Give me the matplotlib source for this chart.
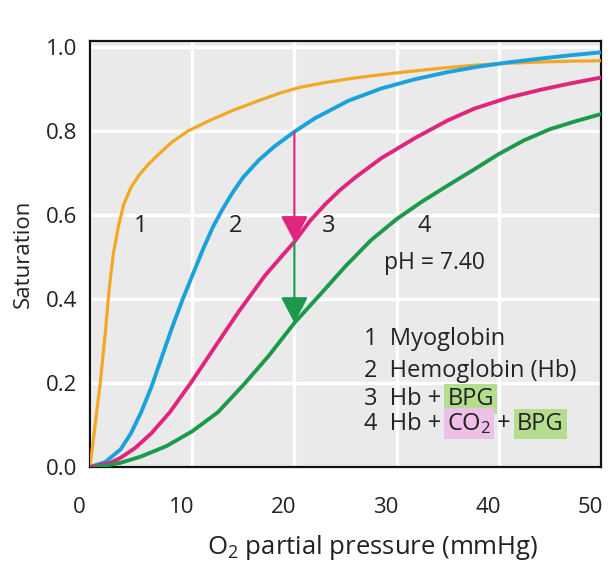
import matplotlib
matplotlib.use('Agg')
import matplotlib.pyplot as plt
from matplotlib.patches import ArrowStyle
from matplotlib.transforms import ScaledTranslation

plt.rcParams['font.family'] = ['Open Sans', 'DejaVu Sans']
plt.rcParams['mathtext.default'] = 'regular'

# ---- data ----
myo_x = [0, 0.5, 1.0, 1.5, 1.9, 2.3, 2.8, 3.3, 4.0, 4.8, 5.7, 6.6, 8.0, 9.6, 11.9, 14.1, 16.5, 18.7,
         20.6, 23.0, 25.3, 28.5, 31.8, 35.1, 38.0, 40.9, 44.1, 47.0, 50]
myo_y = [0, 0.10, 0.20, 0.32, 0.43, 0.51, 0.575, 0.625, 0.665, 0.695, 0.72, 0.742, 0.773, 0.80, 0.827,
         0.85, 0.872, 0.891, 0.904, 0.915, 0.924, 0.934, 0.943, 0.951, 0.957, 0.961, 0.964, 0.966, 0.967]

hb_x = [0, 1.5, 3, 4, 5, 6, 7, 8, 9, 10, 11, 12, 13, 14, 15, 16.5, 18, 20, 22, 25.3, 28.5, 31.8,
        35, 38, 40.9, 44, 47, 50]
hb_y = [0, 0.012, 0.042, 0.08, 0.13, 0.19, 0.26, 0.33, 0.395, 0.455, 0.515, 0.57, 0.615, 0.655, 0.69,
        0.73, 0.762, 0.798, 0.83, 0.872, 0.901, 0.923, 0.94, 0.953, 0.963, 0.972, 0.98, 0.987]

bpg_x = [0, 2, 3, 4.4, 6, 7.8, 10, 12.2, 14.5, 17.1, 18.7, 20, 21.5, 23, 24.5, 26, 28.5, 31.8, 35,
         37.6, 40.9, 44.1, 47, 50]
bpg_y = [0, 0.01, 0.022, 0.045, 0.08, 0.13, 0.205, 0.285, 0.368, 0.455, 0.50, 0.536, 0.585, 0.625,
         0.66, 0.69, 0.735, 0.783, 0.825, 0.853, 0.879, 0.898, 0.913, 0.927]

co2_x = [0.5, 1.5, 3, 5, 7.5, 10, 12.5, 15, 17.5, 20, 22.5, 25, 27.5, 30, 32.5, 35, 37.5, 40, 42.5,
         45, 47.5, 50]
co2_y = [0, 0.003, 0.01, 0.025, 0.05, 0.085, 0.13, 0.195, 0.265, 0.343, 0.41, 0.478, 0.54, 0.59,
         0.632, 0.67, 0.707, 0.745, 0.778, 0.804, 0.823, 0.84]

arrow_x = 20
arrow1_y = [0.798, 0.536]   # Hb -> Hb + BPG
arrow2_y = [0.536, 0.343]   # Hb + BPG -> Hb + CO2 + BPG

curve_labels = ['1', '2', '3', '4']
curve_label_x = [5.0, 14.2, 23.4, 32.7]
curve_label_y = 0.574

x_ticks = [0, 10, 20, 30, 40, 50]
y_ticks = [0.0, 0.2, 0.4, 0.6, 0.8, 1.0]

# colours
c_myo = '#f3a824'
c_hb = '#1ba2dc'
c_bpg = '#e0257f'
c_co2 = '#1c9a4a'
hl_green = '#b4de8e'
hl_pink = '#eec0e8'
ink = '#222222'

fig = plt.figure(figsize=(6.16, 5.77), dpi=100)
ax = fig.add_axes([90 / 616, 110 / 577, 511 / 616, 426 / 577])
ax.set_facecolor('#eaeaea')

ax.plot(myo_x, myo_y, color=c_myo, lw=2.3, solid_capstyle='round', solid_joinstyle='round', zorder=3)
ax.plot(hb_x, hb_y, color=c_hb, lw=2.8, solid_capstyle='round', solid_joinstyle='round', zorder=3)
ax.plot(bpg_x, bpg_y, color=c_bpg, lw=2.8, solid_capstyle='round', solid_joinstyle='round', zorder=3)
ax.plot(co2_x, co2_y, color=c_co2, lw=2.8, solid_capstyle='round', solid_joinstyle='round', zorder=3)

# shift arrows
head = ArrowStyle('-|>', head_length=0.8, head_width=0.42)
ax.annotate('', xy=(arrow_x, arrow1_y[1]), xytext=(arrow_x, arrow1_y[0]),
            arrowprops=dict(arrowstyle=head, color=c_bpg, lw=1.6, mutation_scale=20,
                            shrinkA=0, shrinkB=0), zorder=4)
ax.annotate('', xy=(arrow_x, arrow2_y[1]), xytext=(arrow_x, arrow2_y[0]),
            arrowprops=dict(arrowstyle=head, color=c_co2, lw=1.6, mutation_scale=20,
                            shrinkA=0, shrinkB=0), zorder=4)

for lab, lx in zip(curve_labels, curve_label_x):
    ax.text(lx, curve_label_y, lab, fontsize=17, ha='center', va='center', color=ink)

ax.text(28.8, 0.486, 'pH = 7.40', fontsize=16.5, ha='left', va='center', color=ink)

# key, with highlighted BPG / CO2
key_x = 26.8
key_rows = [
    (0.29, [('1  Myoglobin', None)]),
    (0.214, [('2  Hemoglobin (Hb)', None)]),
    (0.148, [('3  Hb + ', None), ('BPG', hl_green)]),
    (0.088, [('4  Hb + ', None), ('CO$_2$', hl_pink), (' + ', None), ('BPG', hl_green)]),
]
for ky, pieces in key_rows:
    prev = None
    for txt, bg in pieces:
        box = dict(boxstyle='square,pad=0.12', fc=bg, ec='none') if bg else None
        if prev is None:
            prev = ax.text(key_x, ky, txt, fontsize=17, ha='left', va='baseline',
                           color=ink, bbox=box, zorder=5)
        else:
            prev = ax.annotate(txt, xy=(1, 0), xycoords=prev, ha='left', va='bottom',
                               fontsize=17, color=ink, bbox=box, zorder=5)

ax.set_xlim(0, 50)
ax.set_ylim(0, 1.014)
ax.set_xticks(x_ticks)
ax.set_xticklabels([])
ax.set_yticks(y_ticks)
ax.set_yticklabels(['%.1f' % t for t in y_ticks])
ax.tick_params(length=0, labelsize=16, colors=ink)
ax.tick_params(axis='y', pad=9)

# x tick labels sit a little left of their grid lines in the original
shift = ScaledTranslation(-11 / 100, 0, fig.dpi_scale_trans)
for t in x_ticks:
    ax.text(t, -0.094, str(t), fontsize=16, ha='center', va='center', color=ink,
            transform=ax.get_xaxis_transform() + shift, clip_on=False)

ax.grid(True, color='white', lw=2.5)
ax.set_axisbelow(True)
for s in ax.spines.values():
    s.set_color('#111111')
    s.set_linewidth(1.6)

ax.set_xlabel('O$_2$ partial pressure (mmHg)', fontsize=18.5, color=ink, va='center')
ax.xaxis.set_label_coords(0.554, -0.188)
ax.set_ylabel('Saturation', fontsize=16, color=ink, va='center')
ax.yaxis.set_label_coords(-0.131, 0.5)

plt.savefig('out.png', dpi=100)
